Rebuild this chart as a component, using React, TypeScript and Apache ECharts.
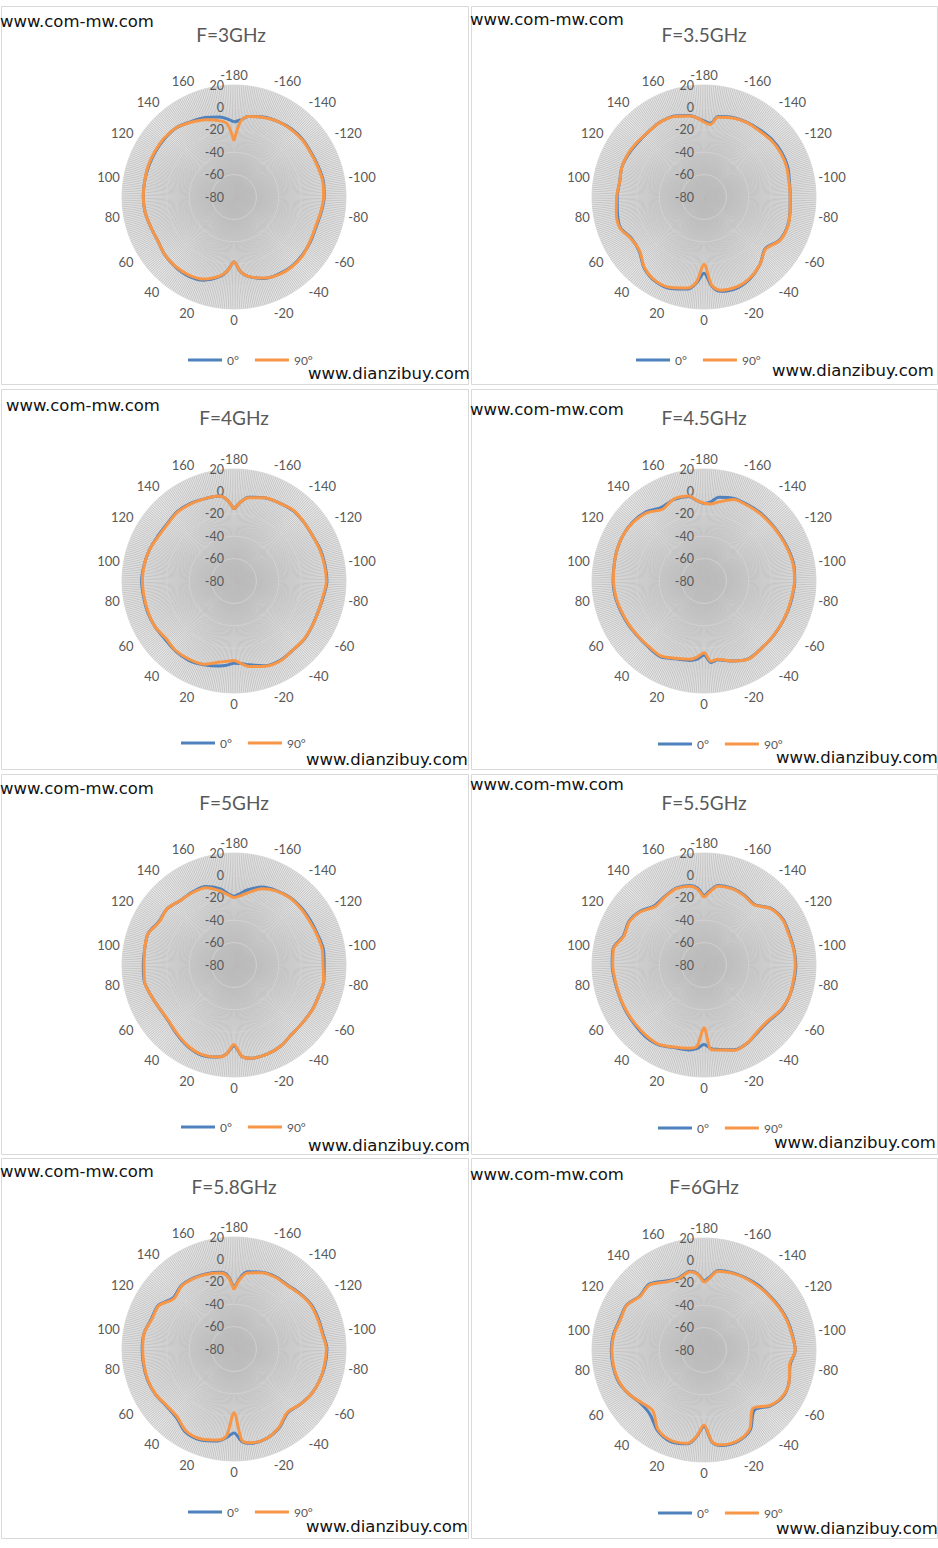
import { useEffect, useRef } from 'react';
import * as echarts from 'echarts';

// 方位角（度），顶部为 -180，顺时针增加；顶部/底部附近加密以表现凹口
const ANGLES = [
  -180, -175, -170, -160, -150, -140, -130, -120, -110, -100,
  -90, -80, -70, -60, -50, -40, -30, -20, -10, -5,
  0, 5, 10, 20, 30, 40, 50, 60, 70, 80,
  90, 100, 110, 120, 130, 140, 150, 160, 170, 175
];

const TITLES = ['F=3GHz', 'F=3.5GHz', 'F=4GHz', 'F=4.5GHz', 'F=5GHz', 'F=5.5GHz', 'F=5.8GHz', 'F=6GHz'];
const SERIES_NAMES = ['0°', '90°'];
const RADIUS_MIN = -80;
const RADIUS_MAX = 20;

// 增益 (dB)，与 ANGLES 一一对应
const DEG0_F3 = [
  -13, -11, -7, -4, -2, -0.5, 0, -0.5, 0, 1,
  0.5, -1, -2, -1, 0, 0.5, -0.5, -2.5, -8, -13,
  -22, -14, -8, -1, 1.5, 1.5, 0.5, -1.5, -1, 0.5,
  1, 1, 1, 1, 1, 0.5, -2.5, -4.5, -7.5, -10
];
const DEG90_F3 = [
  -30, -12, -7, -4.5, -2, -1, -0.5, -1, -0.5, 0.5,
  0, -1.5, -2.5, -1.5, 0.5, 1, 0, -3, -8, -13,
  -22, -14, -8.5, -2, 0.5, 1, 0.5, -1.5, -1, 0.5,
  1, 1, 1.5, 1.5, 1.5, 0.5, -3, -6.5, -11, -15
];

const DEG0_F35 = [
  -12, -14, -7, -4.5, -3, -2, -0.5, 0, -0.5, -2.5,
  -3, -2, -1, -2.5, -8.5, -2, 3.5, 6.5, 5.5, 0,
  -12, -3, 3.5, 7, 7, 3, -4.5, -5.5, -0.5, -1.5,
  -2.5, -3.5, -2, -2.5, -3.5, -3.5, -2.5, -3, -6, -9
];
const DEG90_F35 = [
  -13, -15, -7.7, -5, -3.3, -3, -1.5, -1, -1.5, -3,
  -3, -2, -0.7, -2, -8, -2, 3, 5.5, 4.5, -1,
  -20, -4, 2.5, 6, 6.5, 2.5, -5, -5, 0, -0.5,
  -2, -3.5, -2, -2, -3, -3.5, -2.5, -3.5, -6.5, -9
];

const DEG0_F4 = [
  -16, -9, -4, -1, 0.5, 2, 1.5, 1, 2, 2.5,
  3, 1, 0, 0.5, 1.5, 1, 2, 0.5, -4, -6,
  -6.5, -4.5, -3, -0.5, 1.5, 1.5, 0.5, 1.5, 2, 2,
  2.5, 1.5, 0.5, -1, -1.5, 0, -0.5, -2, -3, -7
];
const DEG90_F4 = [
  -16, -9, -4.5, -1, 0.5, 2.5, 1.5, 1, 1.5, 2,
  2.5, 0.6, 0, 0.5, 1.2, 1, 2.5, 1, -2.5, -6,
  -9, -8, -6.5, -1, 0.5, 1, -0.5, 1.5, 1.5, 1.5,
  1.8, 1.4, 0.5, -1.5, -2, -0.5, -1, -2, -3, -7
];

const DEG0_F45 = [
  -11, -9, -4, -1.5, -1.5, -1, -1, -0.5, 0.5, 1.5,
  1, 0, -0.5, -1, -1, -1, 0, -4, -8.5, -7,
  -14, -10, -8, -6, -2, -3, -3, -2, -1, 0.5,
  1.2, 1.5, 2.5, 3, 2.5, 0.5, -4, -2.5, -3.5, -8
];
const DEG90_F45 = [
  -10.5, -11, -8.5, -2.5, -2.2, -1.7, -1.6, -1, 0, 1,
  0.8, -0.4, -0.8, -1.1, -1.2, -1, 0.3, -4, -9, -8,
  -16, -12, -9, -6.5, -2.8, -3.5, -3.2, -2.5, -1.5, 0,
  0.8, 1.5, 2.5, 3, 2, -0.5, -6, -2, -3, -8
];

const DEG0_F5 = [
  -19, -16, -12, -6, -3.5, -1.5, -1, -1, -0.5, 1,
  0.5, 1.5, 0.5, 0.5, 0, 0.5, 3.5, 5, 4.5, 2,
  -8, 0, 3.5, 5.5, 3.5, 0, -3, -3, -1, 1.5,
  1, 1, 1.7, -2.5, -2, -5, -5, -5.5, -11, -16
];
const DEG90_F5 = [
  -20, -18, -15, -7.5, -3.8, -2, -1.8, -2, -1.2, 0,
  -0.5, 1.2, 0.5, 0.6, 0, 0.5, 3.5, 5, 4.5, 2,
  -9, 0, 3.5, 5, 3, -0.5, -3.3, -3, -1, 1.2,
  0.3, 1, 1.7, -3, -2, -5, -5.5, -6.5, -13, -17
];

const DEG0_F55 = [
  -19, -13, -8, -7, -8, -9.5, -1.5, 1.5, 1, 1.5,
  2, 1.5, 1.2, 0, -3.5, -3.5, -0.5, 0.5, -3.5, -5,
  -9, -5, -3, -1.5, 2, 2.5, 1.5, 1, 0.5, 1,
  2, 2.5, -3.5, -2.5, -5.5, -11, -9.5, -7, -8, -11
];
const DEG90_F55 = [
  -20, -14, -8.5, -7.5, -8.5, -10, -2, 1, 0.5, 1.2,
  1.5, 1, 1.2, -0.5, -4, -4, -0.7, 1, -3, -4,
  -24, -7, -4.5, -2, 1.5, 1.4, 0.8, 0.5, 0.3, 0.5,
  1.5, 2, -4, -3, -6, -12, -10, -7.5, -8.5, -12
];

const DEG0_F58 = [
  -26, -16, -10, -7, -5.5, -5.5, -3, -0.5, 0, 0.5,
  3, 2.5, 1.5, 0, -3, -5.5, 1, 5, 5.5, 3,
  -5, -0.5, 3.5, 6.5, 6, 0, -1, 1, 2, 2,
  2, 1.5, -1.5, -2, -9, -6.5, -7, -8.5, -10.5, -14
];
const DEG90_F58 = [
  -27, -17, -11, -7.5, -6, -6, -3.5, -1, -0.6, 0,
  2.5, 2, 1.5, 0, -3, -6, 0.5, 5, 5, 2,
  -23, -2, 2.5, 5.5, 5, -1, -1.5, 0.8, 1.7, 1.6,
  1.5, 1.5, -2, -2.5, -10, -7, -7.5, -9, -11, -15
];

const DEG0_F6 = [
  -19, -14, -8, -6.5, -5.5, -4.5, -4, -2.5, -1, 0,
  1.5, -2, 1, 2, -2.5, -10, 2.5, 7, 6.5, 2.5,
  -12, -2, 5, 7, 3, -5, -6, -2, 1.5, 2.5,
  2.8, 2, 0, 0, -5, -3.5, -9, -12, -8.5, -11.5
];
const DEG90_F6 = [
  -20, -15, -8.5, -7, -6, -5.3, -4.5, -3, -1.5, -0.4,
  1.5, -2.5, 1, 1.5, -3, -12, 1.5, 6.5, 6, 2,
  -13, -2.5, 4.5, 6, 2, -9, -7, -2, 1, 2,
  2.3, 1.5, -0.6, -0.3, -5.5, -4.3, -10, -12.5, -9, -12
];

const DEG0_DATA = [DEG0_F3, DEG0_F35, DEG0_F4, DEG0_F45, DEG0_F5, DEG0_F55, DEG0_F58, DEG0_F6];
const DEG90_DATA = [DEG90_F3, DEG90_F35, DEG90_F4, DEG90_F45, DEG90_F5, DEG90_F55, DEG90_F58, DEG90_F6];

// 版面位置（像素）
const LAYOUT = [
  { box: [1, 6, 467, 378], c: [234, 197], t: [231, 34], m1: [0, 21], m2: [308, 373], lg: [188, 360] },
  { box: [471, 6, 466, 378], c: [704, 197], t: [704, 34], m1: [470, 19], m2: [772, 370], lg: [636, 360] },
  { box: [1, 389, 467, 380], c: [234, 581], t: [234, 417], m1: [6, 405], m2: [306, 759], lg: [181, 743] },
  { box: [471, 389, 466, 380], c: [704, 581], t: [704, 417], m1: [470, 409], m2: [776, 757], lg: [658, 744] },
  { box: [1, 774, 467, 380], c: [234, 965], t: [234, 802], m1: [0, 788], m2: [308, 1145], lg: [181, 1127] },
  { box: [471, 774, 466, 380], c: [704, 965], t: [704, 802], m1: [470, 784], m2: [774, 1142], lg: [658, 1128] },
  { box: [1, 1158, 467, 380], c: [234, 1349], t: [234, 1186], m1: [0, 1171], m2: [306, 1526], lg: [188, 1512] },
  { box: [471, 1158, 466, 380], c: [704, 1350], t: [704, 1186], m1: [470, 1174], m2: [776, 1528], lg: [658, 1513] }
];
const RADIUS = 112;

const BLUE = '#4f81bd';
const ORANGE = '#f79646';
const LABEL_COLOR = '#595959';
const FONT = 'Lato, "Liberation Sans", sans-serif';
const MARK_FONT = '"DejaVu Sans", Verdana, sans-serif';

const toPolar = (vals: number[]) => {
  const pts = ANGLES.map((a, i) => [vals[i], a]);
  pts.push([vals[0], 180]);
  return pts;
};

function buildOption() {
  const graphic: any[] = [];
  LAYOUT.forEach((p, i) => {
    graphic.push({
      type: 'rect',
      z: -10,
      shape: { x: p.box[0] + 0.5, y: p.box[1] + 0.5, width: p.box[2], height: p.box[3] },
      style: { fill: '#fff', stroke: '#d9d9d9', lineWidth: 1 }
    });
    // 雷达底色
    graphic.push({
      type: 'circle',
      z: -5,
      shape: { cx: p.c[0], cy: p.c[1], r: RADIUS },
      style: { fill: '#e6e6e6' }
    });
    graphic.push({
      type: 'text',
      z: 10,
      x: p.t[0],
      y: p.t[1],
      style: {
        text: TITLES[i], fontSize: 19, fontFamily: FONT, fill: LABEL_COLOR,
        align: 'center', verticalAlign: 'middle'
      }
    });
  });
  // 水印放在最上层
  LAYOUT.forEach((p) => {
    graphic.push({
      type: 'text',
      z: 20,
      x: p.m1[0],
      y: p.m1[1],
      style: {
        text: 'www.com-mw.com', fontSize: 16.5, fontFamily: MARK_FONT, fill: '#111',
        align: 'left', verticalAlign: 'middle'
      }
    });
    graphic.push({
      type: 'text',
      z: 20,
      x: p.m2[0],
      y: p.m2[1],
      style: {
        text: 'www.dianzibuy.com', fontSize: 16.5, fontFamily: MARK_FONT, fill: '#111',
        align: 'left', verticalAlign: 'middle'
      }
    });
  });

  const series: any[] = [];
  LAYOUT.forEach((_, i) => {
    series.push({
      name: SERIES_NAMES[0],
      type: 'line',
      coordinateSystem: 'polar',
      polarIndex: i,
      symbol: 'none',
      smooth: 0.3,
      z: 3,
      lineStyle: { width: 3, color: BLUE },
      itemStyle: { color: BLUE },
      data: toPolar(DEG0_DATA[i])
    });
    series.push({
      name: SERIES_NAMES[1],
      type: 'line',
      coordinateSystem: 'polar',
      polarIndex: i,
      symbol: 'none',
      smooth: 0.3,
      z: 4,
      lineStyle: { width: 3, color: ORANGE },
      itemStyle: { color: ORANGE },
      data: toPolar(DEG90_DATA[i])
    });
  });

  return {
    animation: false,
    backgroundColor: '#fff',
    polar: LAYOUT.map((p) => ({ center: [p.c[0], p.c[1]], radius: RADIUS })),
    angleAxis: LAYOUT.map((_, i) => ({
      polarIndex: i,
      type: 'value',
      min: -180,
      max: 180,
      interval: 20,
      startAngle: 90,
      clockwise: true,
      z: 1,
      axisLine: { show: false },
      axisTick: { show: false },
      axisLabel: { color: LABEL_COLOR, fontSize: 13, fontFamily: FONT, margin: 4 },
      splitLine: { show: true, lineStyle: { color: '#bdbdbd', width: 0.8 } },
      minorTick: { show: false, splitNumber: 20 },
      minorSplitLine: { show: true, lineStyle: { color: '#bdbdbd', width: 0.8 } }
    })),
    radiusAxis: LAYOUT.map((_, i) => ({
      polarIndex: i,
      type: 'value',
      min: RADIUS_MIN,
      max: RADIUS_MAX,
      interval: 20,
      z: 2,
      axisLine: { show: false },
      axisTick: { show: false },
      axisLabel: {
        color: LABEL_COLOR, fontSize: 12.5, fontFamily: FONT, margin: 10,
        padding: [5, 0, 0, 0]
      },
      splitLine: { show: true, lineStyle: { color: '#d4d4d4', width: 0.8 } }
    })),
    legend: LAYOUT.map((p) => ({
      left: p.lg[0],
      top: p.lg[1] - 7,
      padding: 0,
      icon: 'rect',
      itemWidth: 34,
      itemHeight: 3,
      itemGap: 16,
      selectedMode: false,
      textStyle: { color: LABEL_COLOR, fontSize: 12, fontFamily: FONT, lineHeight: 14 },
      data: SERIES_NAMES
    })),
    graphic,
    series
  };
}

function PatternCharts() {
  const chartRef = useRef<HTMLDivElement>(null);

  useEffect(() => {
    if (!chartRef.current) return;
    const chart = echarts.init(chartRef.current, undefined, { renderer: 'svg' });
    chart.setOption(buildOption());
    return () => {
      chart.dispose();
    };
  }, []);

  return <div ref={chartRef} style={{ width: 938, height: 1548 }} />;
}

export default function App() {
  return (
    <div style={{ position: 'absolute', left: 0, top: 0, width: 938, height: 1548, background: '#fff' }}>
      <PatternCharts />
    </div>
  );
}
